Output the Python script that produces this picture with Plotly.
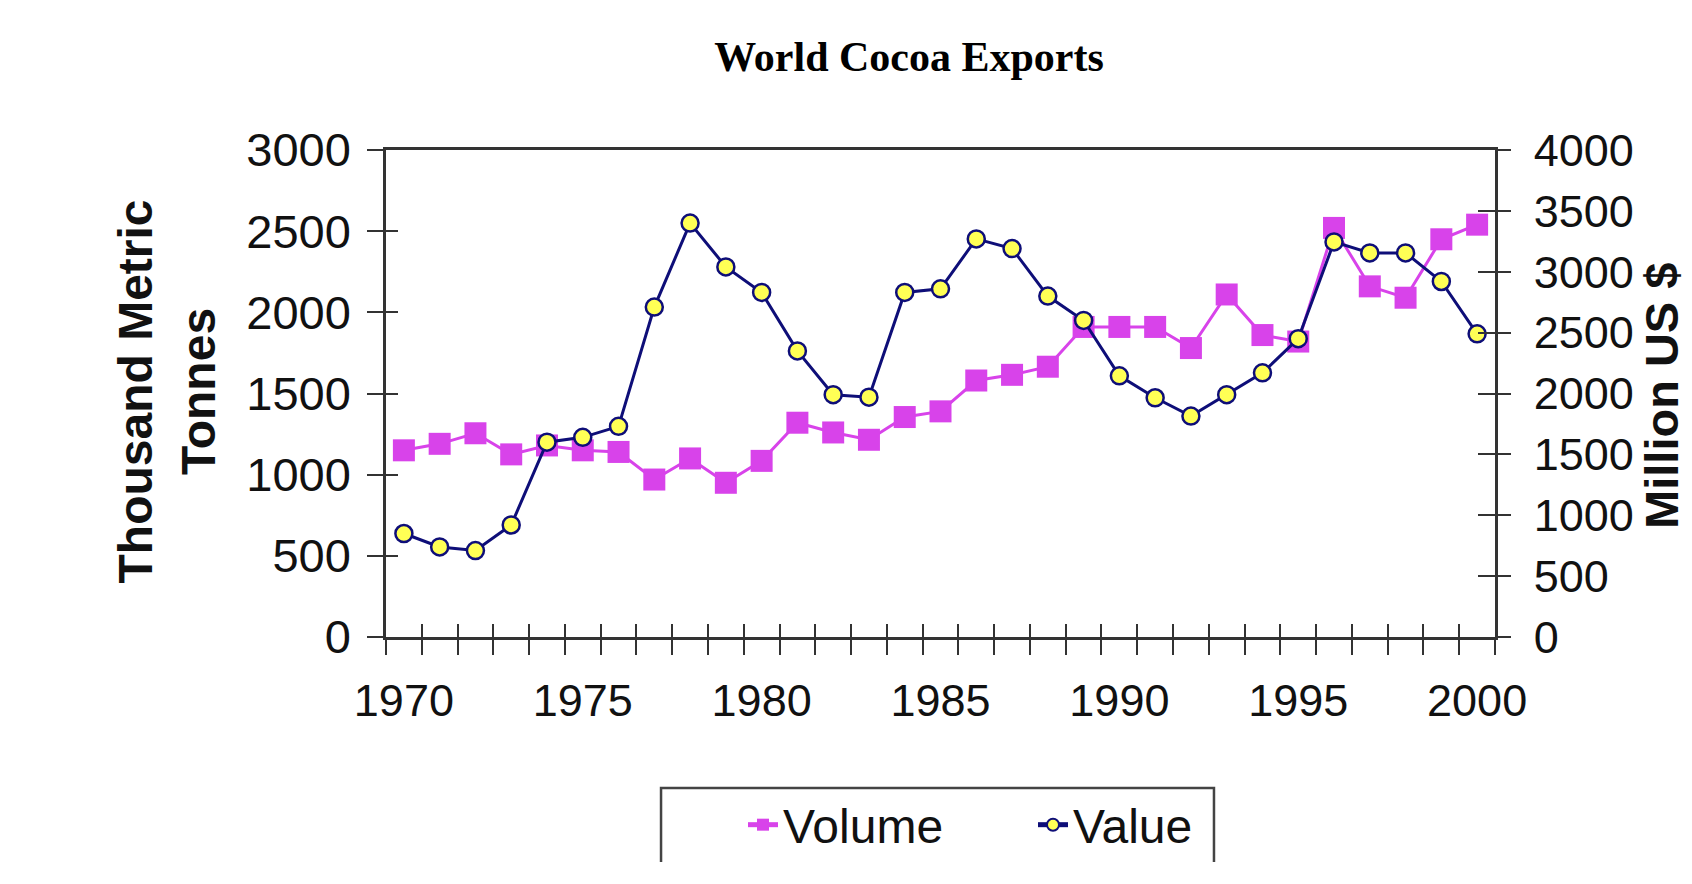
import plotly.graph_objects as go

years = list(range(1970, 2001))
volume = [1150, 1190, 1255, 1125, 1180, 1150, 1140, 970, 1100, 950, 1085,
          1320, 1260, 1215, 1355, 1390, 1580, 1615, 1665, 1910, 1910, 1910,
          1780, 2110, 1860, 1820, 2520, 2160, 2090, 2450, 2540]
value = [850, 740, 710, 920, 1600, 1640, 1730, 2710, 3400, 3040, 2830,
         2350, 1990, 1970, 2830, 2860, 3270, 3190, 2800, 2600, 2145, 1965,
         1815, 1990, 2170, 2450, 3245, 3155, 3155, 2920, 2490]
label_years = [1970, 1975, 1980, 1985, 1990, 1995, 2000]
left_ticks = [0, 500, 1000, 1500, 2000, 2500, 3000]
right_ticks = [0, 500, 1000, 1500, 2000, 2500, 3000, 3500, 4000]
boundaries = [y - 0.5 for y in range(1970, 2002)]

MAG = "#D843EA"
NAVY = "#0E0E78"
AX = "#333333"
FONT = "Liberation Sans"

fig = go.Figure()
fig.add_trace(go.Scatter(
    x=years, y=volume, name="Volume", mode="lines+markers",
    line=dict(color=MAG, width=3),
    marker=dict(symbol="square", size=22, color=MAG),
    xaxis="x", yaxis="y"))
fig.add_trace(go.Scatter(
    x=years, y=value, name="Value", mode="lines+markers",
    line=dict(color=NAVY, width=3),
    marker=dict(symbol="circle", size=17, color="#FFFF55",
                line=dict(color=NAVY, width=2.5)),
    xaxis="x", yaxis="y2"))
# invisible helper traces so the inner tick axes are drawn
fig.add_trace(go.Scatter(x=[None], y=[None], xaxis="x3", yaxis="y3",
                         showlegend=False, hoverinfo="skip"))
fig.add_trace(go.Scatter(x=[None], y=[None], xaxis="x3", yaxis="y4",
                         showlegend=False, hoverinfo="skip"))

xr = [1969.5, 2000.5]
tickfont = dict(family=FONT, size=45, color="#111111")

fig.update_layout(
    width=1692, height=884,
    paper_bgcolor="white", plot_bgcolor="white",
    margin=dict(l=386, r=197, t=150, b=247),
    showlegend=True,
    title=dict(text="<b>World Cocoa Exports</b>",
               font=dict(family="Liberation Serif", size=42, color="black"),
               x=909 / 1692, xanchor="center", xref="container",
               y=1 - 56 / 884, yanchor="middle", yref="container"),
    xaxis=dict(range=xr, tickmode="array", tickvals=label_years,
               ticks="", showgrid=False, zeroline=False,
               showline=True, linecolor=AX, linewidth=2.5, mirror=True,
               tickfont=tickfont, ticklabelstandoff=22,
               minor=dict(tickmode="array", tickvals=boundaries,
                          ticks="outside", ticklen=15, tickwidth=2,
                          tickcolor=AX, showgrid=False)),
    xaxis3=dict(range=xr, overlaying="x", anchor="y", side="bottom",
                tickmode="array", tickvals=boundaries, ticks="inside",
                ticklen=13, tickwidth=2, tickcolor=AX,
                showticklabels=False, showgrid=False, zeroline=False,
                showline=False),
    yaxis=dict(range=[0, 3000], tickmode="array", tickvals=left_ticks,
               ticks="outside", ticklen=16, tickwidth=2, tickcolor=AX,
               showline=True, linecolor=AX, linewidth=2.5,
               showgrid=False, zeroline=False,
               tickfont=dict(family=FONT, size=47, color="#111111"),
               ticklabelstandoff=7),
    yaxis3=dict(range=[0, 3000], overlaying="y", anchor="x", side="left",
                tickmode="array", tickvals=left_ticks, ticks="inside",
                ticklen=12, tickwidth=2, tickcolor=AX,
                showticklabels=False, showgrid=False, zeroline=False,
                showline=False),
    yaxis2=dict(range=[0, 4000], overlaying="y", anchor="x", side="right",
                tickmode="array", tickvals=right_ticks,
                ticks="outside", ticklen=13, tickwidth=2, tickcolor=AX,
                showline=True, linecolor=AX, linewidth=2.5,
                showgrid=False, zeroline=False, tickfont=tickfont,
                ticklabelstandoff=14),
    yaxis4=dict(range=[0, 4000], overlaying="y", anchor="x", side="right",
                tickmode="array", tickvals=right_ticks, ticks="inside",
                ticklen=17, tickwidth=2, tickcolor=AX,
                showticklabels=False, showgrid=False, zeroline=False,
                showline=False),
    legend=dict(orientation="h", x=(743 - 386) / 1109, xanchor="left",
                y=-0.386, yanchor="middle", entrywidth=245,
                entrywidthmode="pixels",
                font=dict(family=FONT, size=48, color="#111111"),
                bgcolor="rgba(0,0,0,0)", borderwidth=0,
                itemsizing="constant", traceorder="normal"),
    annotations=[
        dict(text="<b>Thousand Metric<br>Tonnes</b>", textangle=-90,
             xref="paper", yref="paper", x=-0.198, y=0.505,
             xanchor="center", yanchor="middle", showarrow=False,
             font=dict(family=FONT, size=48, color="#111111")),
        dict(text="<b>Million US $</b>", textangle=-90,
             xref="paper", yref="paper", x=(1662 - 386) / 1109, y=0.495,
             xanchor="center", yanchor="middle", showarrow=False,
             font=dict(family=FONT, size=47, color="#111111")),
    ],
    shapes=[
        dict(type="path", xref="paper", yref="paper",
             path="M 0.248,-0.462 L 0.248,-0.310 L 0.7466,-0.310 L 0.7466,-0.462",
             line=dict(color="#444444", width=2.5)),
    ],
)

fig.write_html("out.html")
